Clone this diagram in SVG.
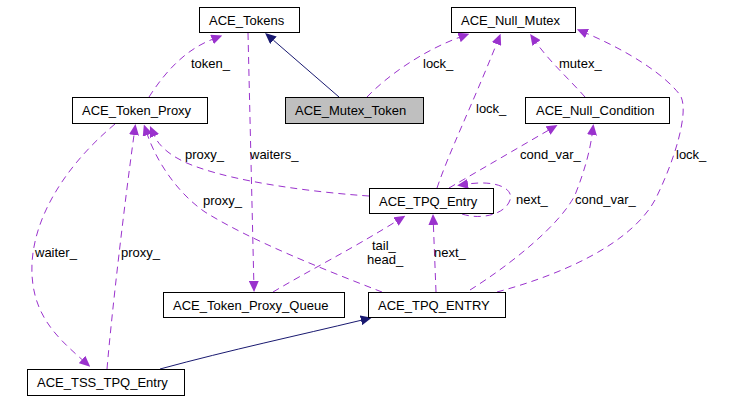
<svg xmlns="http://www.w3.org/2000/svg" width="744" height="400" viewBox="0 0 744 400">
<style>
.box{fill:#ffffff;stroke:#000000;stroke-width:1}
.gray{fill:#bfbfbf}
.t{font-family:"Liberation Sans",Arial,sans-serif;font-size:13px;fill:#000000}
.dep{fill:none;stroke:#9a32cd;stroke-width:1;stroke-dasharray:7,5;marker-end:url(#ap)}
.inh{fill:none;stroke:#191970;stroke-width:1;marker-end:url(#an)}
</style>
<defs>
<marker id="ap" viewBox="0 0 11 10" refX="0" refY="5" markerWidth="11" markerHeight="10" markerUnits="userSpaceOnUse" orient="auto"><path d="M0,0 L11,5 L0,10 z" fill="#9a32cd" stroke="none"/></marker>
<marker id="an" viewBox="0 0 11 10" refX="0" refY="5" markerWidth="11" markerHeight="10" markerUnits="userSpaceOnUse" orient="auto"><path d="M0,0 L11,5 L0,10 z" fill="#191970" stroke="none"/></marker>
</defs>
<rect width="744" height="400" fill="#ffffff"/>
<g id="connectors">
<path class="inh" d="M339,97 L273.4,40.2"/>
<path class="dep" d="M367,97 C385,78 420,52 459,37.5"/>
<path class="dep" d="M149,97 C165,72 185,50 212,39.5"/>
<path class="dep" d="M248,33 L253.8,281"/>
<path class="dep" d="M115,124 C60,170 25,230 33,285 C38,320 60,340 82,359.5"/>
<path class="dep" d="M107,369 C112,310 125,200 134,135"/>
<path class="dep" d="M369,196 C310,192 240,182 200,168 C175,160 160,148 154.5,136"/>
<path class="dep" d="M382,292 C320,268 250,240 205,212 C180,195 158,165 147.5,135"/>
<path class="dep" d="M437,188 C450,150 470,110 496.5,44"/>
<path class="dep" d="M585,97 C570,80 550,62 536.5,43"/>
<path class="dep" d="M497,292 C560,275 630,245 655,200 C675,160 690,110 680,95 C665,75 630,52 587,33.5"/>
<path class="dep" d="M449,188 L548,130.5"/>
<path class="dep" d="M470,290 C510,265 560,225 575,195 C585,170 590,150 592,135"/>
<path class="dep" d="M462,214 C480,220 505,215 510,200 C514,188 495,180 468,184"/>
<path class="dep" d="M436,292 L433.4,225"/>
<path class="dep" d="M273,292 C310,270 350,250 396,221.5"/>
<path class="inh" d="M160,369 C230,350 300,335 361,320.3"/>
<text class="t" x="191" y="67.5">token_</text>
<text class="t" x="423" y="67.5">lock_</text>
<text class="t" x="559" y="67.5">mutex_</text>
<text class="t" x="476" y="113">lock_</text>
<text class="t" x="185" y="159">proxy_</text>
<text class="t" x="250" y="159">waiters_</text>
<text class="t" x="520" y="159">cond_var_</text>
<text class="t" x="676" y="159">lock_</text>
<text class="t" x="516" y="204">next_</text>
<text class="t" x="203" y="205">proxy_</text>
<text class="t" x="575" y="204">cond_var_</text>
<text class="t" x="35" y="256.5">waiter_</text>
<text class="t" x="121" y="256.5">proxy_</text>
<text class="t" x="372" y="249.5">tail_</text>
<text class="t" x="367" y="264">head_</text>
<text class="t" x="434" y="256.5">next_</text>
</g>
<g id="ACE_Tokens"><rect class="box" x="199.5" y="7.5" width="100" height="25"/><text class="t" x="209" y="24.5">ACE_Tokens</text></g>
<g id="ACE_Null_Mutex"><rect class="box" x="451.5" y="7.5" width="124" height="25"/><text class="t" x="461" y="24.5">ACE_Null_Mutex</text></g>
<g id="ACE_Token_Proxy"><rect class="box" x="72.5" y="97.5" width="135" height="26"/><text class="t" x="82" y="115">ACE_Token_Proxy</text></g>
<g id="ACE_Mutex_Token"><rect class="box gray" x="285.5" y="97.5" width="138" height="26"/><text class="t" x="295" y="115">ACE_Mutex_Token</text></g>
<g id="ACE_Null_Condition"><rect class="box" x="525.5" y="97.5" width="144" height="26"/><text class="t" x="536" y="115">ACE_Null_Condition</text></g>
<g id="ACE_TPQ_Entry"><rect class="box" x="369.5" y="188.5" width="124" height="25"/><text class="t" x="379" y="205.5">ACE_TPQ_Entry</text></g>
<g id="ACE_Token_Proxy_Queue"><rect class="box" x="163.5" y="292.5" width="181" height="25"/><text class="t" x="173" y="309.5">ACE_Token_Proxy_Queue</text></g>
<g id="ACE_TPQ_ENTRY"><rect class="box" x="368.5" y="292.5" width="137" height="25"/><text class="t" x="378" y="309.5">ACE_TPQ_ENTRY</text></g>
<g id="ACE_TSS_TPQ_Entry"><rect class="box" x="27.5" y="369.5" width="157" height="26"/><text class="t" x="37" y="387">ACE_TSS_TPQ_Entry</text></g>
</svg>
